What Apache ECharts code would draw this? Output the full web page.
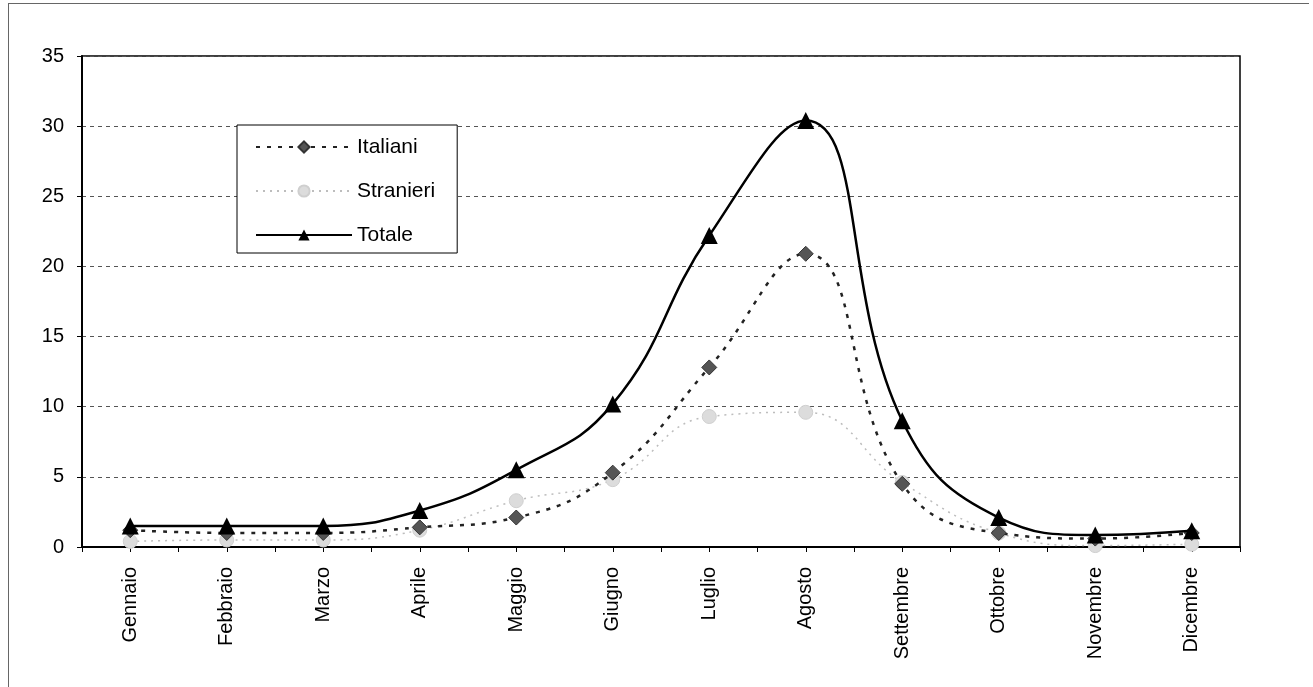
<!DOCTYPE html>
<html>
<head>
<meta charset="utf-8">
<script src="https://cdn.jsdelivr.net/npm/echarts@6/dist/echarts.min.js"></script>
<style>
html,body{margin:0;padding:0;background:#fff;}
#frame{position:absolute;left:8px;top:3px;width:1300px;height:690px;border-left:1px solid #666;border-top:1px solid #666;}
#chart{position:absolute;left:0;top:0;width:1313px;height:687px;}
</style>
</head>
<body>
<div id="frame"></div>
<div id="chart"></div>
<script>
const categories = ['Gennaio','Febbraio','Marzo','Aprile','Maggio','Giugno','Luglio','Agosto','Settembre','Ottobre','Novembre','Dicembre'];
const italiani  = [1.2, 1.0, 1.0, 1.4, 2.1, 5.3, 12.8, 20.9, 4.5, 1.0, 0.6, 1.0];
const stranieri = [0.4, 0.5, 0.5, 1.2, 3.3, 4.8, 9.3, 9.6, 4.6, 1.0, 0.1, 0.2];
const totale    = [1.5, 1.5, 1.5, 2.6, 5.5, 10.2, 22.2, 30.4, 9.0, 2.1, 0.85, 1.15];
const yTicks = {min: 0, max: 35, interval: 5};
const halfTicks = categories.flatMap(c => ['', '']);

const FONT = 'Liberation Sans, Arial, sans-serif';
const chart = echarts.init(document.getElementById('chart'));
chart.setOption({
  animation: false,
  backgroundColor: 'transparent',
  textStyle: {fontFamily: FONT},
  grid: {left: 82, right: 73, top: 56, bottom: 140, show: true, borderColor: '#000', borderWidth: 1.5, containLabel: false},
  legend: {
    orient: 'vertical',
    left: 237, top: 125,
    padding: [10, 22, 6, 18],
    itemGap: 20,
    itemWidth: 96, itemHeight: 14,
    backgroundColor: '#fff',
    borderColor: '#000', borderWidth: 1,
    textStyle: {fontSize: 21, lineHeight: 24, color: '#000', fontFamily: FONT},
    data: ['Italiani','Stranieri','Totale']
  },
  xAxis: [{
    type: 'category',
    data: categories,
    boundaryGap: true,
    axisLine: {lineStyle: {color: '#000', width: 2}},
    axisTick: {show: false},
    axisLabel: {rotate: 90, fontSize: 20, color: '#000', margin: 20, fontFamily: FONT}
  }, {
    type: 'category',
    data: halfTicks,
    position: 'bottom',
    boundaryGap: true,
    axisLine: {show: false},
    axisTick: {show: true, lineStyle: {color: '#000'}, length: 5},
    axisLabel: {show: false}
  }],
  yAxis: {
    type: 'value',
    min: yTicks.min, max: yTicks.max, interval: yTicks.interval,
    axisLine: {show: true, lineStyle: {color: '#000', width: 2}},
    axisTick: {show: true, lineStyle: {color: '#000'}, length: 5},
    axisLabel: {fontSize: 20, color: '#000', margin: 18, fontFamily: FONT},
    splitLine: {lineStyle: {color: '#555', type: [4, 4], width: 1}}
  },
  series: [
    {
      name: 'Italiani', type: 'line', data: italiani, smooth: 0.45,
      symbol: 'diamond', symbolSize: 15,
      itemStyle: {color: '#555', borderColor: '#333', borderWidth: 1},
      lineStyle: {color: '#222', width: 2.5, type: [4, 7]},
      z: 3
    },
    {
      name: 'Stranieri', type: 'line', data: stranieri, smooth: 0.45,
      symbol: 'circle', symbolSize: 14,
      itemStyle: {color: '#dcdcdc', borderColor: '#cfcfcf', borderWidth: 1},
      lineStyle: {color: '#bdbdbd', width: 1.5, type: [2, 5]},
      z: 2
    },
    {
      name: 'Totale', type: 'line', data: totale, smooth: 0.45,
      symbol: 'triangle', symbolSize: 17,
      itemStyle: {color: '#000'},
      lineStyle: {color: '#000', width: 2.5},
      z: 4
    }
  ]
});
</script>
</body>
</html>
